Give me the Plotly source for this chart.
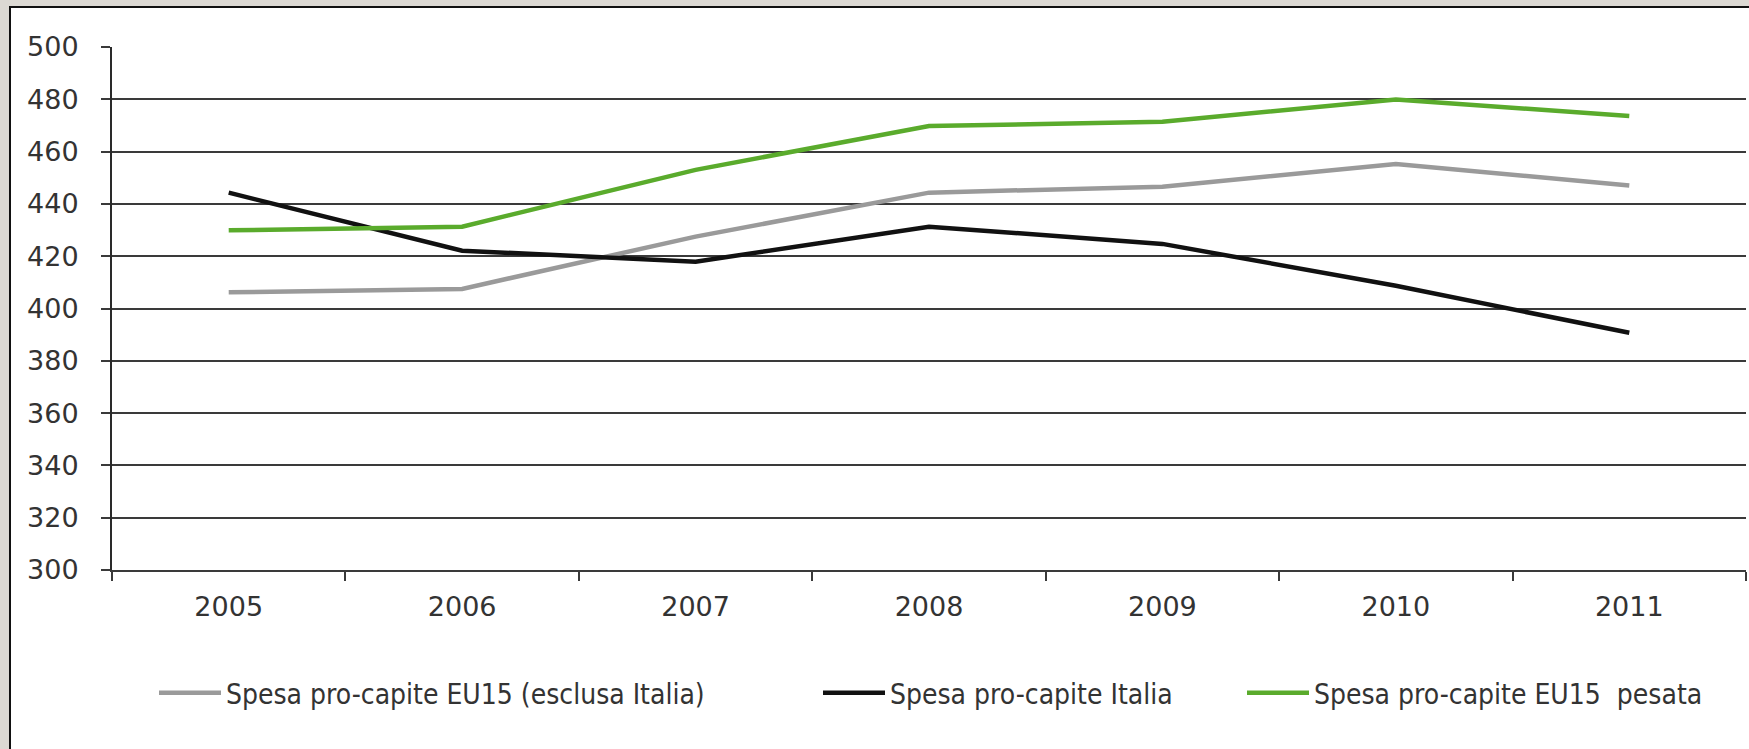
import plotly.graph_objects as go

years = ["2005", "2006", "2007", "2008", "2009", "2010", "2011"]
eu15_excl_italia = [406.2, 407.5, 427.5, 444.3, 446.6, 455.3, 447.0]
italia = [444.3, 422.1, 417.9, 431.3, 424.7, 408.7, 390.7]
eu15_pesata = [429.9, 431.3, 453.0, 469.8, 471.4, 479.9, 473.6]
names = ["Spesa pro-capite EU15 (esclusa Italia)", "Spesa pro-capite Italia", "Spesa pro-capite EU15  pesata"]
y_ticks = [300, 320, 340, 360, 380, 400, 420, 440, 460, 480, 500]

W, H = 1749, 749
L, R, T, B = 112, 3, 47, 179
PW, PH = W - L - R, H - T - B

def px_x(px):
    return (px - L) / PW

def px_y(py):
    return (H - B - py) / PH

fig = go.Figure()
series = [(eu15_excl_italia, "#9a9a9a", "legend"), (italia, "#111111", "legend2"), (eu15_pesata, "#5aab2c", "legend3")]
for (vals, col, lg), nm in zip(series, names):
    fig.add_trace(go.Scatter(x=years, y=vals, mode="lines", name=nm,
                             line=dict(color=col, width=4.5), legend=lg))

legend_font = dict(family="DejaVu Sans Condensed, Liberation Sans Narrow, Liberation Sans", size=28, color="#333333")
common = dict(orientation="h", xref="container", yref="container", yanchor="middle",
              xanchor="left", font=legend_font, bgcolor="rgba(0,0,0,0)", itemwidth=62)
fig.update_layout(
    legend=dict(x=154 / W, y=(H - 693) / H, **common),
    legend2=dict(x=818 / W, y=(H - 693) / H, **common),
    legend3=dict(x=1242 / W, y=(H - 693) / H, **common),
)

shapes = [
    dict(type="rect", xref="paper", yref="paper", x0=px_x(0), x1=px_x(W), y0=px_y(0), y1=px_y(7),
         fillcolor="#dcd9d3", line=dict(width=0), layer="below"),
    dict(type="rect", xref="paper", yref="paper", x0=px_x(0), x1=px_x(10), y0=px_y(0), y1=px_y(H),
         fillcolor="#dcd9d3", line=dict(width=0), layer="below"),
    dict(type="line", xref="paper", yref="paper", x0=px_x(10), x1=px_x(10), y0=px_y(6), y1=px_y(H),
         line=dict(color="#111111", width=2)),
    dict(type="line", xref="paper", yref="paper", x0=px_x(10), x1=px_x(W), y0=px_y(7), y1=px_y(7),
         line=dict(color="#111111", width=2)),
]

fig.update_layout(
    width=W, height=H,
    margin=dict(l=L, r=R, t=T, b=B),
    paper_bgcolor="white", plot_bgcolor="white",
    showlegend=True,
    shapes=shapes,
    xaxis=dict(type="category", range=[-0.5, 6.5], tickson="boundaries", ticks="outside",
               ticklen=9, tickwidth=2, tickcolor="#3a3a3a", showgrid=False, showline=True,
               linecolor="#3a3a3a", linewidth=2,
               tickfont=dict(family="DejaVu Sans", size=27, color="#333333"),
               ticklabelstandoff=12),
    yaxis=dict(range=[300, 500], tickvals=y_ticks, ticks="outside", ticklen=9, tickwidth=2,
               tickcolor="#3a3a3a", showgrid=True, gridcolor="#3a3a3a", gridwidth=2,
               showline=True, linecolor="#2a2a2a", linewidth=2, zeroline=False,
               tickfont=dict(family="DejaVu Sans", size=27, color="#333333"),
               ticklabelstandoff=17),
)

fig.write_html("out.html")
